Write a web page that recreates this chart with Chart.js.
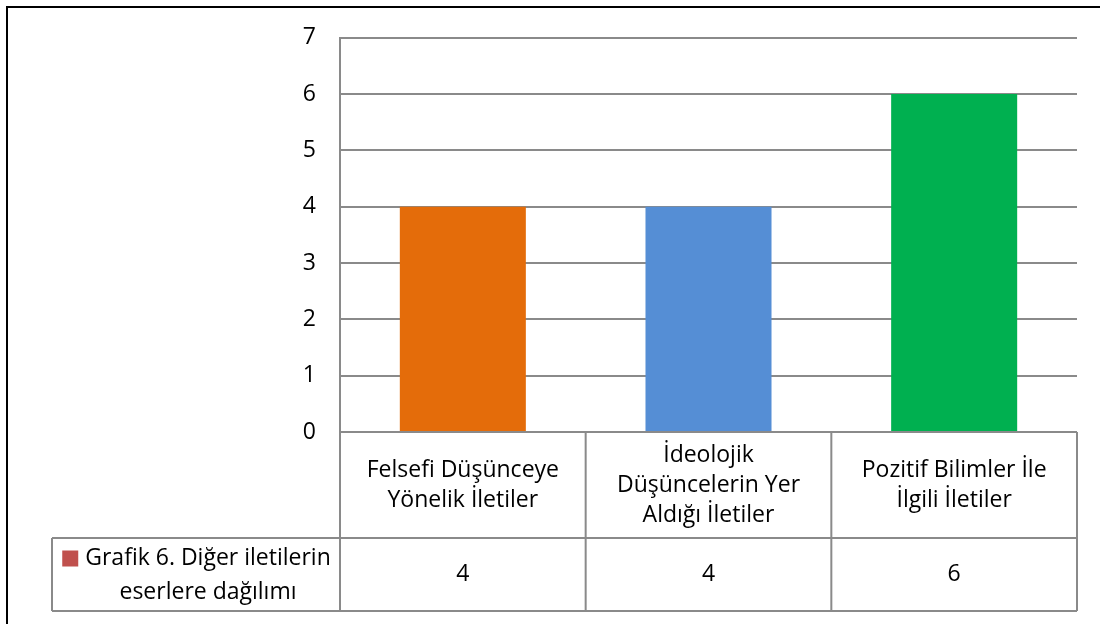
<!DOCTYPE html>
<html>
<head>
<meta charset="utf-8">
<script src="https://cdn.jsdelivr.net/npm/chart.js@4/dist/chart.umd.min.js"></script>
<style>
  html, body { margin: 0; padding: 0; background: #fff; }
  #c { display: block; }
</style>
</head>
<body>
<canvas id="c" width="1100" height="624"></canvas>
<script>
// ---- data ----
const categories = [
  ["Felsefi Düşünceye", "Yönelik İletiler"],
  ["İdeolojik", "Düşüncelerin Yer", "Aldığı İletiler"],
  ["Pozitif Bilimler İle", "İlgili İletiler"]
];
const seriesName = ["Grafik 6. Diğer iletilerin", "eserlere dağılımı"];
const values = [4, 4, 6];
const barColors = ["#E46C0A", "#558ED5", "#00B050"];
const legendColor = "#C0504D";
const yMin = 0, yMax = 7, yStep = 1;

// ---- styles ----
const FONT_FAMILY = "'Open Sans', Lato, sans-serif";
const FONT_SIZE = 23;
const GRID_COLOR = "#8a8a8a";
const TEXT_COLOR = "#000";

const tablePlugin = {
  id: "dataTable",
  beforeDraw(chart) {
    const ctx = chart.ctx;
    ctx.save();
    ctx.fillStyle = "#fff";
    ctx.fillRect(0, 0, chart.width, chart.height);
    ctx.restore();
  },
  afterDraw(chart) {
    const ctx = chart.ctx;
    const ca = chart.chartArea;
    const xs = chart.scales.x;
    const n = categories.length;
    const cw = (ca.right - ca.left) / n;
    const headerBottom = 538;
    const tableBottom = 611;
    const legendLeft = 52;

    ctx.save();
    // outer frame
    ctx.strokeStyle = "#000";
    ctx.lineWidth = 2;
    ctx.strokeRect(7, 7, 1300, 900);

    ctx.strokeStyle = GRID_COLOR;
    ctx.lineWidth = 2;
    ctx.beginPath();
    ctx.moveTo(ca.left, ca.bottom); ctx.lineTo(ca.right, ca.bottom);
    ctx.moveTo(legendLeft, headerBottom); ctx.lineTo(ca.right, headerBottom);
    ctx.moveTo(legendLeft, tableBottom); ctx.lineTo(ca.right, tableBottom);
    ctx.moveTo(legendLeft, headerBottom); ctx.lineTo(legendLeft, tableBottom);
    for (let i = 0; i <= n; i++) {
      const x = ca.left + i * cw;
      ctx.moveTo(x, ca.bottom); ctx.lineTo(x, tableBottom);
    }
    ctx.stroke();

    // texts
    ctx.fillStyle = TEXT_COLOR;
    ctx.font = FONT_SIZE + "px " + FONT_FAMILY;
    ctx.textAlign = "center";
    ctx.textBaseline = "middle";
    const lh = 30;
    const hc = (ca.bottom + headerBottom) / 2;
    const vc = (headerBottom + tableBottom) / 2;
    for (let i = 0; i < n; i++) {
      const cx = xs.getPixelForValue(i);
      const lines = categories[i];
      const start = hc - (lines.length - 1) * lh / 2;
      lines.forEach((t, k) => ctx.fillText(t, cx, start + k * lh));
      ctx.fillText(String(values[i]), cx, vc);
    }
    // legend cell
    const lc = (legendLeft + ca.left) / 2 + 12;
    const l1y = vc - 16, l2y = vc + 18;
    ctx.fillText(seriesName[0], lc, l1y);
    ctx.fillText(seriesName[1], lc, l2y);
    const w1 = ctx.measureText(seriesName[0]).width;
    ctx.fillStyle = legendColor;
    ctx.fillRect(lc - w1 / 2 - 23, l1y - 8, 16, 16);
    ctx.restore();
  }
};

new Chart(document.getElementById("c"), {
  type: "bar",
  data: {
    labels: categories,
    datasets: [{
      label: seriesName.join(" "),
      data: values,
      backgroundColor: barColors,
      borderWidth: 0,
      categoryPercentage: 1,
      barPercentage: 0.513
    }]
  },
  options: {
    responsive: false,
    animation: false,
    devicePixelRatio: 1,
    layout: { padding: { left: 0, top: 34, right: 23, bottom: 192 } },
    plugins: { legend: { display: false }, tooltip: { enabled: false } },
    scales: {
      x: { display: false },
      y: {
        min: yMin, max: yMax,
        ticks: {
          stepSize: yStep,
          color: TEXT_COLOR,
          padding: 24,
          font: { family: FONT_FAMILY, size: FONT_SIZE }
        },
        grid: { color: GRID_COLOR, lineWidth: 2, drawTicks: false },
        border: { display: true, color: GRID_COLOR, width: 2 },
        afterFit(scale) { scale.width = 340; }
      }
    }
  },
  plugins: [tablePlugin]
});
</script>
</body>
</html>
